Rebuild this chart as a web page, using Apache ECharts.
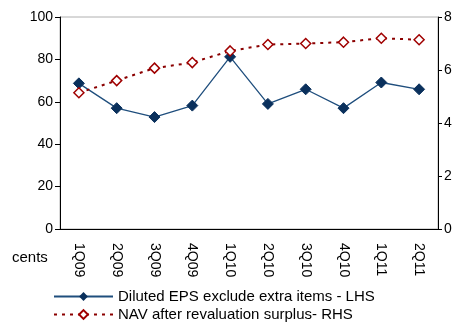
<!DOCTYPE html>
<html>
<head>
<meta charset="utf-8">
<script src="https://cdn.jsdelivr.net/npm/echarts@6/dist/echarts.min.js"></script>
<style>
  html, body { margin: 0; padding: 0; background: #fff; }
  #chart { width: 459px; height: 324px; }
</style>
</head>
<body>
<div id="chart"></div>
<script>
// quarters on the x axis
const quarters = ['1Q09', '2Q09', '3Q09', '4Q09', '1Q10', '2Q10', '3Q10', '4Q10', '1Q11', '2Q11'];
// diluted EPS, cents (left axis)
const epsValues = [68.7, 57, 52.8, 58.2, 81.2, 59, 65.9, 57, 69.1, 65.9];
// NAV after revaluation surplus (right axis)
const navValues = [5.14, 5.6, 6.07, 6.28, 6.72, 6.96, 7.0, 7.05, 7.2, 7.14];
const leftTicks = [0, 20, 40, 60, 80, 100];
const rightTicks = [0, 2, 4, 6, 8];

const font = 'Liberation Sans, Arial, sans-serif';
const epsName = 'Diluted EPS exclude extra items - LHS';
const navName = 'NAV after revaluation surplus- RHS';
const myChart = echarts.init(document.getElementById('chart'));

const legendBase = {
  left: 48,
  itemWidth: 59,
  itemHeight: 11,
  textStyle: { fontFamily: font, fontSize: 15, color: '#000' }
};

const options = {
  animation: false,
  grid: {
    left: 60, right: 21, top: 17, bottom: 95,
    show: true,
    borderColor: '#b0b0b0',
    borderWidth: 1
  },
  legend: [
    Object.assign({}, legendBase, { top: 284, data: [epsName] }),
    Object.assign({}, legendBase, { top: 302, data: [navName] })
  ],
  xAxis: {
    type: 'category',
    data: quarters,
    boundaryGap: true,
    axisLine: { lineStyle: { color: '#000', width: 1 } },
    axisTick: { inside: true, length: 4, lineStyle: { color: '#000' } },
    axisLabel: {
      rotate: -90,
      fontFamily: font,
      fontSize: 14,
      color: '#000',
      margin: 14
    }
  },
  yAxis: [
    {
      type: 'value',
      min: leftTicks[0],
      max: leftTicks[leftTicks.length - 1],
      interval: 20,
      splitLine: { show: false },
      axisLine: { show: true, lineStyle: { color: '#000' } },
      axisTick: { show: true, length: 5, lineStyle: { color: '#000' } },
      axisLabel: { fontFamily: font, fontSize: 14, color: '#000', margin: 7 }
    },
    {
      type: 'value',
      position: 'right',
      min: rightTicks[0],
      max: rightTicks[rightTicks.length - 1],
      interval: 2,
      splitLine: { show: false },
      axisLine: { show: true, lineStyle: { color: '#000' } },
      axisTick: { show: true, length: 4, lineStyle: { color: '#000' } },
      axisLabel: { fontFamily: font, fontSize: 14, color: '#000', margin: 6 }
    }
  ],
  graphic: [
    {
      type: 'text',
      left: 12,
      top: 250,
      style: { text: 'cents', font: '15px ' + font, fill: '#000' }
    }
  ],
  series: [
    {
      name: epsName,
      type: 'line',
      yAxisIndex: 0,
      data: epsValues,
      symbol: 'diamond',
      symbolSize: 11,
      lineStyle: { color: '#1f4e7d', width: 1.3 },
      itemStyle: { color: '#0a305c', borderColor: '#0a305c' }
    },
    {
      name: navName,
      type: 'line',
      yAxisIndex: 1,
      data: navValues,
      symbol: 'diamond',
      symbolSize: 10,
      lineStyle: { color: '#8b0000', width: 2, type: [3, 5] },
      itemStyle: { color: '#fff', borderColor: '#a00000', borderWidth: 1.5 }
    }
  ]
};

myChart.setOption(options);
</script>
</body>
</html>
